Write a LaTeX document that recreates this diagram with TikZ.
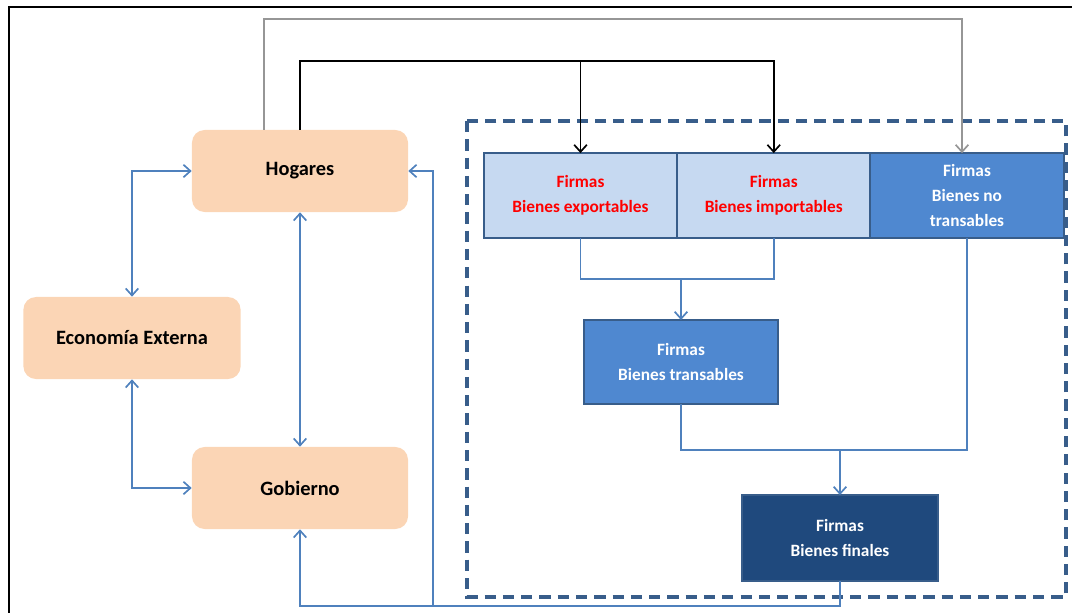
\documentclass[tikz,border=0pt]{standalone}
\usepackage{fontspec}
\setmainfont{Carlito}
\usetikzlibrary{arrows.meta, positioning}
\definecolor{peach}{RGB}{251,213,181}
\definecolor{flowblue}{RGB}{79,129,189}
\definecolor{lightfirm}{RGB}{198,217,241}
\definecolor{midfirm}{RGB}{79,136,208}
\definecolor{darkfirm}{RGB}{31,73,125}
\definecolor{edgeblue}{RGB}{56,93,138}
\definecolor{linkgrey}{RGB}{150,150,150}

\tikzset{
  agent/.style={rectangle, rounded corners=9pt, fill=peach, minimum width=5.4cm, minimum height=2.05cm,
    font=\fontsize{14.5}{17}\selectfont\bfseries, align=center},
  firm/.style={rectangle, draw=edgeblue, line width=1.4pt, minimum width=4.83cm, minimum height=2.12cm,
    font=\fontsize{12.3}{17.5}\selectfont\bfseries, align=center, outer sep=0pt},
  firmlight/.style={firm, fill=lightfirm, text=red},
  firmmid/.style={firm, fill=midfirm, text=white},
  firmdark/.style={firm, fill=darkfirm, text=white},
  flowline/.style={flowblue, line width=1.2pt},
  flow/.style={flowline, -{Straight Barb[length=5pt, width=9pt]}},
  flowboth/.style={flowline, {Straight Barb[length=5pt, width=9pt]}-{Straight Barb[length=5pt, width=9pt]}},
}

\begin{document}
\begin{tikzpicture}[x=0.025cm, y=-0.025cm]
  \useasboundingbox (0,0) rectangle (1072,612);

  % Frame
  \draw[line width=1.5pt] (9,7) rectangle (1090,630);

  % Firms block
  \draw[edgeblue, line width=2.2pt, dash pattern=on 8pt off 5pt] (467,121) rectangle (1066,597);

  % Agents
  \node[agent] (hog) at (300,171) {Hogares};
  \node[agent, minimum width=5.43cm] (eco) at (132,338) {Economía Externa};
  \node[agent] (gob) at (300,488) {Gobierno};

  % Firms
  \node[firmlight] (exp) at (580.5,195.5) {Firmas\\Bienes exportables};
  \node[firmlight] (imp) [right=0pt of exp] {Firmas\\Bienes importables};
  \node[firmmid] (notr) [right=0pt of imp] {Firmas\\Bienes no\\transables};
  \node[firmmid, minimum width=4.85cm, minimum height=2.1cm] (tra) at (681,362) {Firmas\\Bienes transables};
  \node[firmdark, minimum width=4.9cm, minimum height=2.15cm] (fin) at (840,538) {Firmas\\Bienes finales};

  % Junction points
  \coordinate (greybus) at (962,19);
  \coordinate (blackbus) at (300,61);
  \coordinate (joinA) at (681,279);
  \coordinate (joinB) at (840,450);
  \coordinate (retbus) at (433,606);

  % Households to firms
  \draw[linkgrey, line width=1.2pt, -{Straight Barb[length=5pt, width=9pt]}]
    ([xshift=-0.9cm]hog.north) |- (greybus) -- (notr.north -| greybus);
  \draw[black, line width=1.2pt, -{Straight Barb[length=5pt, width=9pt]}]
    (hog.north) |- (imp.north |- blackbus) -- (imp.north);
  \draw[black, line width=1.2pt, -{Straight Barb[length=5pt, width=9pt]}]
    (exp.north |- blackbus) -- (exp.north);

  % Between firms
  \draw[flowline] (exp.south) |- (imp.south |- joinA) -- (imp.south);
  \draw[flow] (joinA) -- (tra.north);
  \draw[flowline] (tra.south) |- (notr.south |- joinB) -- (notr.south);
  \draw[flow] (joinB) -- (fin.north);

  % Back to agents
  \draw[flow] (fin.south) |- (gob.south |- retbus) -- (gob.south);
  \draw[flow] (retbus) |- (hog.east);

  % Among agents
  \draw[flowboth] (eco.north) |- (hog.west);
  \draw[flowboth] (eco.south) |- (gob.west);
  \draw[flowboth] (hog.south) -- (gob.north);
\end{tikzpicture}
\end{document}
